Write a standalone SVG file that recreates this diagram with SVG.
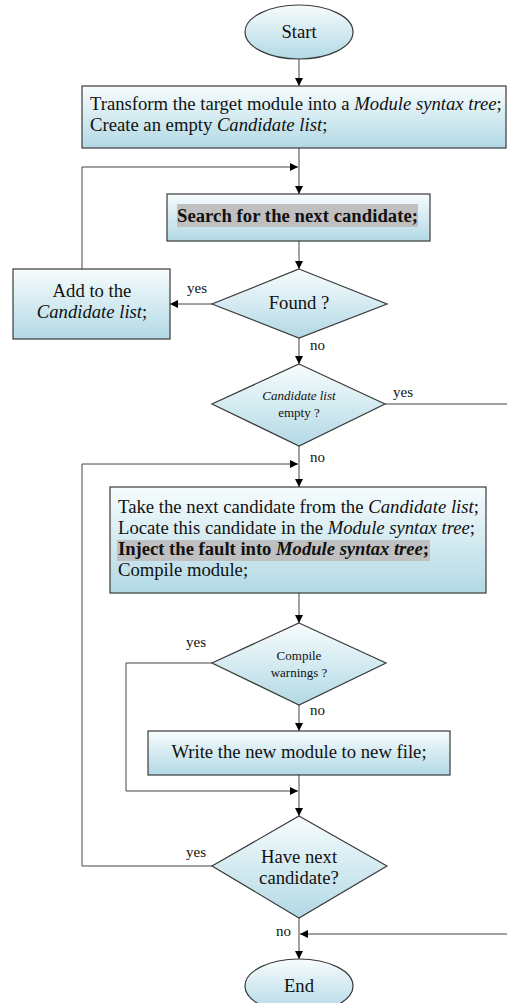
<svg xmlns="http://www.w3.org/2000/svg" width="507" height="1003" viewBox="0 0 507 1003">
<defs>
<linearGradient id="g" x1="0" y1="0" x2="0" y2="1">
<stop offset="0" stop-color="#f7fcfd"/>
<stop offset="1" stop-color="#b2d9e5"/>
</linearGradient>
<marker id="ah" viewBox="0 0 10 10" refX="10" refY="5" markerWidth="8" markerHeight="8" markerUnits="userSpaceOnUse" orient="auto">
<path d="M0,0 L10,5 L0,10 z" fill="#000"/>
</marker>
<style>
.shape{fill:url(#g);stroke:#3a3a3a;stroke-width:1.2}
.t{font-family:"Liberation Serif","Times New Roman",serif;font-size:18.67px;fill:#111}
.s{font-family:"Liberation Serif","Times New Roman",serif;font-size:13px;fill:#111}
.lab{font-family:"Liberation Serif","Times New Roman",serif;font-size:15px;fill:#111}
.c{text-anchor:middle}
.i{font-style:italic}
.b{font-weight:bold}
.hl{fill:#c0c0c0}
.con{fill:none;stroke:#444;stroke-width:1}
.arr{marker-end:url(#ah)}
</style>
</defs>
<g id="connectors">
<path class="con arr" d="M299,59 V86"/>
<path class="con arr" d="M299,148 V194"/>
<path class="con arr" d="M82,269 V167 H298"/>
<path class="con arr" d="M299,241 V269"/>
<path class="con arr" d="M212,304 H170"/>
<path class="con arr" d="M299,338 V364"/>
<path class="con" d="M385,404 H507"/>
<path class="con arr" d="M299,446 V487"/>
<path class="con arr" d="M212,866 H82 V464 H298"/>
<path class="con arr" d="M299,593 V623"/>
<path class="con arr" d="M212,663 H126 V791 H298"/>
<path class="con arr" d="M299,705 V731"/>
<path class="con arr" d="M299,775 V816"/>
<path class="con arr" d="M299,918 V959"/>
<path class="con arr" d="M507,934 H300"/>
<text class="lab" x="187" y="293">yes</text>
<text class="lab" x="310" y="350">no</text>
<text class="lab" x="393" y="397">yes</text>
<text class="lab" x="310" y="462">no</text>
<text class="lab" x="186" y="647">yes</text>
<text class="lab" x="310" y="715">no</text>
<text class="lab" x="186" y="857">yes</text>
<text class="lab" x="276" y="936">no</text>
</g>
<g id="start">
<ellipse class="shape" cx="299" cy="32" rx="54" ry="27"/>
<text class="t c" x="299" y="38">Start</text>
</g>
<g id="transform">
<rect class="shape" x="82" y="86" width="424" height="62"/>
<text class="t" x="90" y="110">Transform the target module into a <tspan class="i">Module syntax tree</tspan>;</text>
<text class="t" x="90" y="131">Create an empty <tspan class="i">Candidate list</tspan>;</text>
</g>
<g id="search">
<rect class="shape" x="167" y="194" width="263" height="47"/>
<rect class="hl" x="177" y="204" width="241" height="23"/>
<text class="t b" x="177" y="222" textLength="241" lengthAdjust="spacing">Search for the next candidate;</text>
</g>
<g id="found">
<polygon class="shape" points="299,269 387,304 299,338 212,304"/>
<text class="t c" x="299" y="309">Found ?</text>
</g>
<g id="add">
<rect class="shape" x="13" y="269" width="157" height="70"/>
<text class="t c" x="92" y="297">Add to the</text>
<text class="t c" x="92" y="318"><tspan class="i">Candidate list</tspan>;</text>
</g>
<g id="empty">
<polygon class="shape" points="299,364 385,404 299,446 212,404"/>
<text class="s c i" x="299" y="400">Candidate list</text>
<text class="s c" x="299" y="417">empty ?</text>
</g>
<g id="take">
<rect class="shape" x="110" y="487" width="376" height="106"/>
<rect class="hl" x="117" y="540" width="313" height="21"/>
<text class="t" x="118" y="513" textLength="361" lengthAdjust="spacingAndGlyphs">Take the next candidate from the <tspan class="i">Candidate list</tspan>;</text>
<text class="t" x="118" y="534" textLength="357" lengthAdjust="spacing">Locate this candidate in the <tspan class="i">Module syntax tree</tspan>;</text>
<text class="t b" x="118" y="555" textLength="311" lengthAdjust="spacing">Inject the fault into <tspan class="i">Module syntax tree</tspan>;</text>
<text class="t" x="118" y="576">Compile module;</text>
</g>
<g id="compile">
<polygon class="shape" points="299,623 386,663 299,705 212,663"/>
<text class="s c" x="299" y="660">Compile</text>
<text class="s c" x="299" y="677">warnings ?</text>
</g>
<g id="write">
<rect class="shape" x="148" y="731" width="302" height="44"/>
<text class="t c" x="299" y="758">Write the new module to new file;</text>
</g>
<g id="havenext">
<polygon class="shape" points="299,816 387,866 299,918 212,866"/>
<text class="t c" x="299" y="863">Have next</text>
<text class="t c" x="299" y="884">candidate?</text>
</g>
<g id="end">
<ellipse class="shape" cx="299" cy="986" rx="54" ry="27"/>
<text class="t c" x="299" y="992">End</text>
</g>
</svg>
